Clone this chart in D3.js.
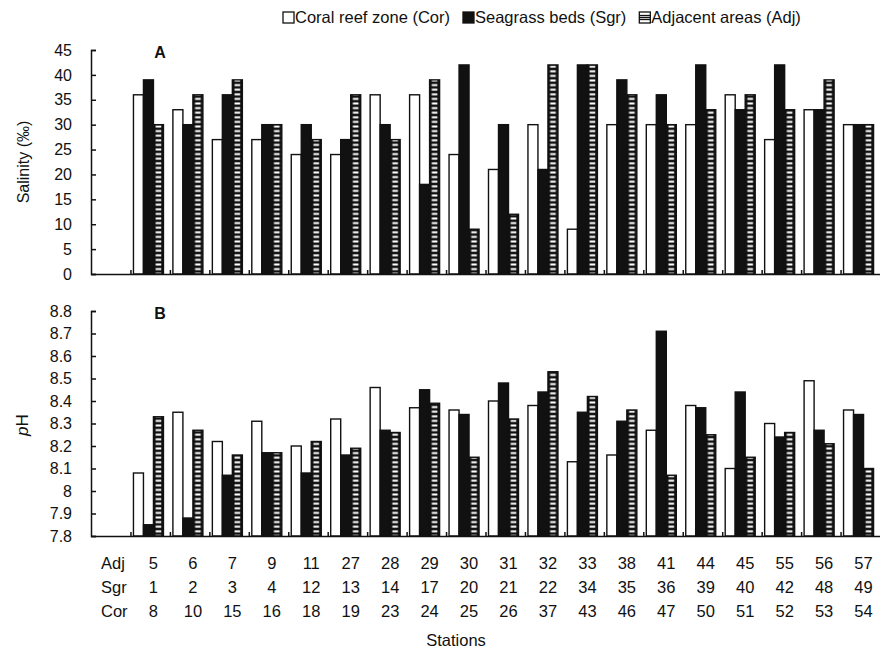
<!DOCTYPE html>
<html>
<head>
<meta charset="utf-8">
<script src="https://cdn.jsdelivr.net/npm/d3@7"></script>
<style>
  body { margin: 0; background: #fff; }
  svg { font-family: "Liberation Sans", Arial, sans-serif; }
  .axis text { font-size: 16px; fill: #111; }
  .axis path, .axis line { stroke: #111; stroke-width: 1.5; }
</style>
</head>
<body>
<svg id="chart" width="880" height="650"></svg>
<script>
// Station numbers for each zone (one column per group)
const adjStations = [5, 6, 7, 9, 11, 27, 28, 29, 30, 31, 32, 33, 38, 41, 44, 45, 55, 56, 57];
const sgrStations = [1, 2, 3, 4, 12, 13, 14, 17, 20, 21, 22, 34, 35, 36, 39, 40, 42, 48, 49];
const corStations = [8, 10, 15, 16, 18, 19, 23, 24, 25, 26, 37, 43, 46, 47, 50, 51, 52, 53, 54];

// Salinity (‰)
const salCor = [36, 33, 27, 27, 24, 24, 36, 36, 24, 21, 30, 9, 30, 30, 30, 36, 27, 33, 30];
const salSgr = [39, 30, 36, 30, 30, 27, 30, 18, 42, 30, 21, 42, 39, 36, 42, 33, 42, 33, 30];
const salAdj = [30, 36, 39, 30, 27, 36, 27, 39, 9, 12, 42, 42, 36, 30, 33, 36, 33, 39, 30];

// pH
const phCor = [8.08, 8.35, 8.22, 8.31, 8.20, 8.32, 8.46, 8.37, 8.36, 8.40, 8.38, 8.13, 8.16, 8.27, 8.38, 8.10, 8.30, 8.49, 8.36];
const phSgr = [7.85, 7.88, 8.07, 8.17, 8.08, 8.16, 8.27, 8.45, 8.34, 8.48, 8.44, 8.35, 8.31, 8.71, 8.37, 8.44, 8.24, 8.27, 8.34];
const phAdj = [8.33, 8.27, 8.16, 8.17, 8.22, 8.19, 8.26, 8.39, 8.15, 8.32, 8.53, 8.42, 8.36, 8.07, 8.25, 8.15, 8.26, 8.21, 8.10];

const zones = ["Cor", "Sgr", "Adj"];
const legendLabels = ["Coral reef zone (Cor)", "Seagrass beds (Sgr)", "Adjacent areas (Adj)"];

const svg = d3.select("#chart");
const ink = "#111";

// first band is left empty, like the original figure
const x = d3.scaleBand().domain(d3.range(20)).range([91, 880]);
const xInner = d3.scaleBand().domain(zones).range([3, 33]);
const xEdge = d3.scaleLinear().domain([0, 20]).range([91, 880]);

// ladder hatch for adjacent areas; each group is translated, so x=0 is the band start
const defs = svg.append("defs");
const pat = defs.append("pattern")
    .attr("id", "hatch")
    .attr("patternUnits", "userSpaceOnUse")
    .attr("x", 0).attr("y", 0)
    .attr("width", x.step()).attr("height", 4.6);
pat.append("rect").attr("width", x.step()).attr("height", 4.6).attr("fill", ink);
pat.append("rect")
    .attr("x", xInner("Adj") + 2.2).attr("y", 1.3)
    .attr("width", xInner.bandwidth() - 4.4).attr("height", 2)
    .attr("fill", "#fff");

function fillFor(z) {
  return z === "Cor" ? "#fff" : z === "Sgr" ? ink : "url(#hatch)";
}

function panel(cfg) {
  const y = d3.scaleLinear().domain(cfg.domain).range([cfg.bottom, cfg.top]);
  const g = svg.append("g");

  const rows = cfg.series[0].map((_, i) => ({
    i: i + 1,
    vals: zones.map((z, k) => ({ z, v: cfg.series[k][i] }))
  }));

  g.selectAll("g.grp")
    .data(rows)
    .join("g")
      .attr("class", "grp")
      .attr("transform", d => `translate(${x(d.i)},0)`)
    .selectAll("rect")
    .data(d => d.vals)
    .join("rect")
      .attr("x", d => xInner(d.z))
      .attr("y", d => y(d.v))
      .attr("width", xInner.bandwidth())
      .attr("height", d => y(cfg.domain[0]) - y(d.v))
      .attr("fill", d => fillFor(d.z))
      .attr("stroke", ink)
      .attr("stroke-width", 1.4);

  // y axis with inward ticks
  g.append("g")
      .attr("class", "axis")
      .attr("transform", `translate(91,0)`)
      .call(d3.axisLeft(y).ticks(cfg.ticks).tickFormat(cfg.fmt)
        .tickSizeInner(-5).tickSizeOuter(-5).tickPadding(19));

  // x baseline with small inward ticks at band edges
  g.append("g")
      .attr("class", "axis")
      .attr("transform", `translate(0,${cfg.bottom})`)
      .call(d3.axisBottom(xEdge).tickValues(d3.range(1, 20)).tickFormat("")
        .tickSizeInner(-4).tickSizeOuter(0));

  g.append("text")
      .attr("x", 160).attr("y", cfg.top + 8)
      .attr("text-anchor", "middle")
      .attr("font-size", 16).attr("font-weight", "bold").attr("fill", ink)
      .text(cfg.letter);

  return g;
}

panel({
  series: [salCor, salSgr, salAdj],
  domain: [0, 45], top: 50, bottom: 274, ticks: 9,
  fmt: d3.format("d"), letter: "A"
});

panel({
  series: [phCor, phSgr, phAdj],
  domain: [7.8, 8.8], top: 311, bottom: 536, ticks: 10,
  fmt: d => (Math.round(d * 10) / 10).toString(), letter: "B"
});

// axis titles
svg.append("text")
    .attr("transform", "translate(29,162) rotate(-90)")
    .attr("text-anchor", "middle")
    .attr("font-size", 16).attr("fill", ink)
    .text("Salinity (‰)");

const phT = svg.append("text")
    .attr("transform", "translate(28,425) rotate(-90)")
    .attr("text-anchor", "middle")
    .attr("font-size", 17).attr("fill", ink);
phT.append("tspan").attr("font-style", "italic").text("p");
phT.append("tspan").text("H");

// station table under the panels
const tableRows = [
  { name: "Adj", vals: adjStations, y: 569 },
  { name: "Sgr", vals: sgrStations, y: 593 },
  { name: "Cor", vals: corStations, y: 617 }
];
const tbl = svg.append("g").attr("font-size", 16.5).attr("fill", ink);
tableRows.forEach(r => {
  tbl.append("text").attr("x", 101).attr("y", r.y).text(r.name);
  tbl.selectAll(null)
    .data(r.vals)
    .join("text")
      .attr("x", (d, i) => x(i + 1) + 23)
      .attr("y", r.y)
      .attr("text-anchor", "middle")
      .text(d => d);
});

svg.append("text")
    .attr("x", 456).attr("y", 646)
    .attr("text-anchor", "middle")
    .attr("font-size", 16.5).attr("fill", ink)
    .text("Stations");

// legend
const leg = svg.append("g").attr("transform", "translate(283,0)");
let lx = 0;
zones.forEach((z, k) => {
  leg.append("rect")
      .attr("x", lx).attr("y", 12)
      .attr("width", 11).attr("height", 11)
      .attr("fill", z === "Adj" ? "#fff" : fillFor(z))
      .attr("stroke", ink).attr("stroke-width", 1.3);
  if (z === "Adj") {
    [15.5, 17.5, 19.5].forEach(yy => leg.append("line")
      .attr("x1", lx).attr("x2", lx + 11).attr("y1", yy).attr("y2", yy)
      .attr("stroke", ink).attr("stroke-width", 1.3));
  }
  const t = leg.append("text")
      .attr("x", lx + 12).attr("y", 23)
      .attr("font-size", 16.5).attr("fill", ink)
      .text(legendLabels[k]);
  lx += 12 + t.node().getComputedTextLength() + 13;
});
</script>
</body>
</html>
